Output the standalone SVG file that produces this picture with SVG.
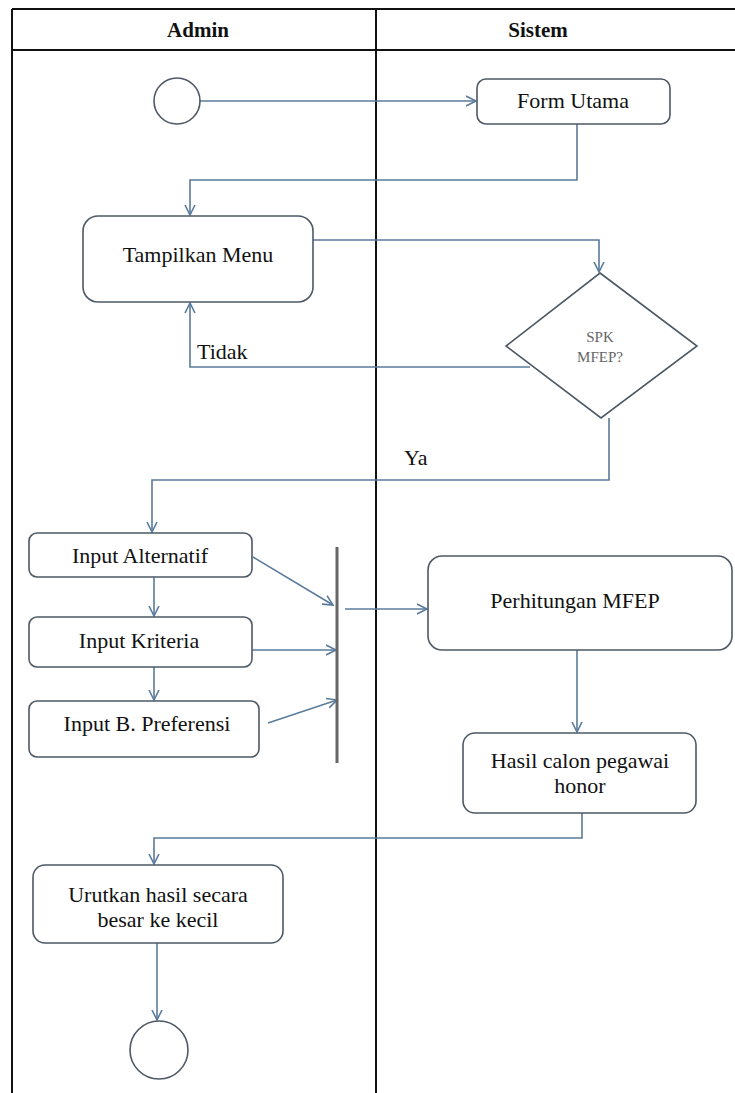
<svg xmlns="http://www.w3.org/2000/svg" width="735" height="1093" viewBox="0 0 735 1093">
<style>
.frame{stroke:#111;stroke-width:2;fill:none}
.node{fill:#fff;stroke:#4d5966;stroke-width:1.6}
.bar{stroke:#666;stroke-width:3}
.conn{fill:none;stroke:#5a7b9c;stroke-width:1.6}
text{font-family:'Liberation Serif','DejaVu Serif',serif}
.t{font-size:22px;fill:#111;text-anchor:middle}
.h{font-size:21px;font-weight:bold;fill:#111;text-anchor:middle}
.lbl{font-size:22px;fill:#111}
.q{font-size:15px;fill:#666;text-anchor:middle}
</style>
<defs>
<marker id="arr" markerUnits="userSpaceOnUse" markerWidth="12" markerHeight="12" refX="10" refY="5" orient="auto" viewBox="0 0 12 10">
<path d="M0,0 L10,5 L0,10" fill="none" stroke="#5a7b9c" stroke-width="1.6"/>
</marker>
</defs>
<rect width="735" height="1093" fill="#fff"/>
<g id="swimlanes">
<line class="frame" x1="12" y1="9" x2="735" y2="9"/>
<line class="frame" x1="12" y1="50" x2="735" y2="50"/>
<line class="frame" x1="12" y1="9" x2="12" y2="1093"/>
<line class="frame" x1="376" y1="9" x2="376" y2="1093"/>
<text class="h" x="198" y="37" font-family="Liberation Serif, serif">Admin</text>
<text class="h" x="538" y="37" font-family="Liberation Serif, serif">Sistem</text>
</g>
<g id="connectors">
<path class="conn" d="M200,101 H476" marker-end="url(#arr)"/>
<path class="conn" d="M577,124 V180 H190 V215" marker-end="url(#arr)"/>
<path class="conn" d="M313,240 H599 V272" marker-end="url(#arr)"/>
<path class="conn" d="M530,367 H190 V303" marker-end="url(#arr)"/>
<path class="conn" d="M609,418 V480 H152 V532" marker-end="url(#arr)"/>
<path class="conn" d="M154,577 V616" marker-end="url(#arr)"/>
<path class="conn" d="M154,667 V700" marker-end="url(#arr)"/>
<path class="conn" d="M253,557 L333,605" marker-end="url(#arr)"/>
<path class="conn" d="M252,650 H336" marker-end="url(#arr)"/>
<path class="conn" d="M268,723 L337,700" marker-end="url(#arr)"/>
<path class="conn" d="M345,609 H427" marker-end="url(#arr)"/>
<path class="conn" d="M577,650 V732" marker-end="url(#arr)"/>
<path class="conn" d="M582,813 V838 H154 V864" marker-end="url(#arr)"/>
<path class="conn" d="M157,943 V1020" marker-end="url(#arr)"/>
<text class="lbl" x="197" y="359" font-family="Liberation Serif, serif">Tidak</text>
<text class="lbl" x="404" y="465" font-family="Liberation Serif, serif">Ya</text>
</g>
<g id="start"><circle class="node" cx="177" cy="101" r="23"/></g>
<g id="form-utama"><rect class="node" x="477" y="79" width="193" height="45" rx="9"/><text class="t" x="573" y="108" font-family="Liberation Serif, serif">Form Utama</text></g>
<g id="tampilkan-menu"><rect class="node" x="83" y="216" width="230" height="86" rx="15"/><text class="t" x="198" y="262" font-family="Liberation Serif, serif">Tampilkan Menu</text></g>
<g id="decision"><polygon class="node" points="600,273 697,346 601,418 506,346"/><text class="q" x="600" y="342" font-family="Liberation Serif, serif">SPK</text><text class="q" x="600" y="362" font-family="Liberation Serif, serif">MFEP?</text></g>
<g id="input-alternatif"><rect class="node" x="29" y="533" width="223" height="44" rx="8"/><text class="t" x="140" y="563" font-family="Liberation Serif, serif">Input Alternatif</text></g>
<g id="input-kriteria"><rect class="node" x="29" y="617" width="223" height="50" rx="8"/><text class="t" x="139" y="648" font-family="Liberation Serif, serif">Input Kriteria</text></g>
<g id="input-preferensi"><rect class="node" x="29" y="701" width="230" height="56" rx="8"/><text class="t" x="147" y="731" font-family="Liberation Serif, serif">Input B. Preferensi</text></g>
<g id="fork"><line class="bar" x1="337" y1="547" x2="337" y2="763"/></g>
<g id="perhitungan"><rect class="node" x="428" y="556" width="304" height="94" rx="14"/><text class="t" x="575" y="608" font-family="Liberation Serif, serif">Perhitungan MFEP</text></g>
<g id="hasil"><rect class="node" x="463" y="733" width="233" height="80" rx="12"/><text class="t" x="580" y="768" font-family="Liberation Serif, serif">Hasil calon pegawai</text><text class="t" x="580" y="793" font-family="Liberation Serif, serif">honor</text></g>
<g id="urutkan"><rect class="node" x="33" y="865" width="250" height="78" rx="12"/><text class="t" x="158" y="902" font-family="Liberation Serif, serif">Urutkan hasil secara</text><text class="t" x="158" y="927" font-family="Liberation Serif, serif">besar ke kecil</text></g>
<g id="end"><circle class="node" cx="159" cy="1050" r="29"/></g>
</svg>
